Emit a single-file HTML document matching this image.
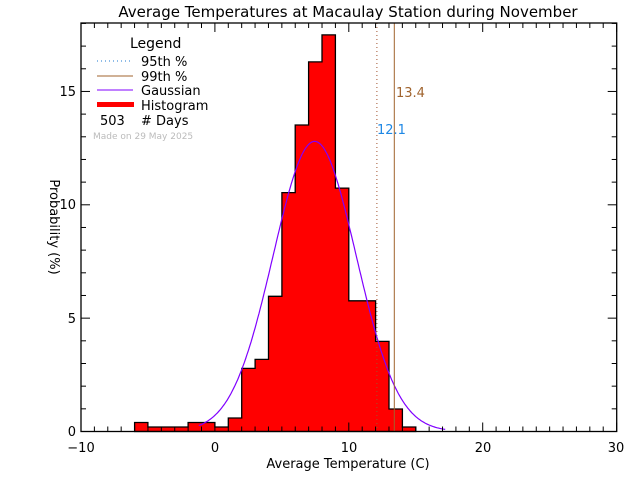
<!DOCTYPE html>
<html><head><meta charset="utf-8"><style>
html,body{margin:0;padding:0;background:#fff;}
svg{display:block;font-family:"DejaVu Sans","Liberation Sans",sans-serif;}
</style></head><body>
<svg id="s" width="640" height="480" viewBox="0 0 640 480" xmlns="http://www.w3.org/2000/svg">
<g id="bars"></g>
<g id="gauss"></g>
<line x1="376.9" y1="23" x2="376.9" y2="431.5" stroke="#a0522d" stroke-width="1" stroke-dasharray="1,3"/>
<line x1="394.3" y1="23" x2="394.3" y2="431.5" stroke="#a0632d" stroke-width="1"/>
<g id="ticks" stroke="#000" stroke-width="1"></g>
<rect x="81" y="23" width="535.7" height="408.5" fill="none" stroke="#000" stroke-width="1.3"/>
<text x="348" y="17" font-size="15" text-anchor="middle">Average Temperatures at Macaulay Station during November</text>
<g font-size="13" text-anchor="middle">
<text x="81" y="452">−10</text><text x="215" y="452">0</text><text x="349" y="452">10</text><text x="483" y="452">20</text><text x="616" y="452">30</text>
</g>
<g font-size="13" text-anchor="end">
<text x="76" y="436">0</text><text x="76" y="323">5</text><text x="76" y="209">10</text><text x="76" y="96">15</text>
</g>
<text x="348" y="468" font-size="13" text-anchor="middle">Average Temperature (C)</text>
<text transform="translate(50,227) rotate(90)" font-size="13" text-anchor="middle">Probability (%)</text>
<text x="130" y="48" font-size="14">Legend</text>
<line x1="97" y1="61" x2="133" y2="61" stroke="#1e78d0" stroke-dasharray="1,3"/>
<text x="141" y="66" font-size="13">95th %</text>
<line x1="97" y1="76" x2="133" y2="76" stroke="#a0632d"/>
<text x="141" y="81" font-size="13">99th %</text>
<line x1="97" y1="90" x2="133" y2="90" stroke="#8000ff"/>
<text x="141" y="95" font-size="13">Gaussian</text>
<rect x="97" y="102" width="37" height="5" fill="#ff0000"/>
<text x="141" y="110" font-size="13">Histogram</text>
<text x="100" y="125" font-size="13">503</text>
<text x="141" y="125" font-size="13"># Days</text>
<text x="93" y="139" font-size="9" fill="#bbb">Made on 29 May 2025</text>
<text x="396" y="97" font-size="13" fill="#a0632d">13.4</text>
<text x="377" y="134" font-size="13" fill="#1e88e5">12.1</text>
</svg>
<script>
var X=function(v){return 214.9+v*13.39},Y=function(p){return 431.5-p*22.67};
var days={"-6":2,"-5":1,"-4":1,"-3":1,"-2":2,"-1":2,"0":1,"1":3,"2":14,"3":16,"4":30,"5":53,"6":68,"7":82,"8":88,"9":54,"10":29,"11":29,"12":20,"13":5,"14":1};
var pts=[X(-6).toFixed(1)+',431.5'];
for(var k=-6;k<=14;k++){var y=Y(days[k]/503*100).toFixed(1);pts.push(X(k).toFixed(1)+','+y);pts.push(X(k+1).toFixed(1)+','+y);}
pts.push(X(15).toFixed(1)+',431.5');
document.getElementById('bars').innerHTML='<polygon points="'+pts.join(' ')+'" fill="#ff0000" stroke="#000" stroke-width="1.3"/>';
var g=[];for(var v=-1.2;v<=17.2;v+=0.1){var q=12.8*Math.exp(-Math.pow(v-7.45,2)/(2*3.1*3.1));g.push(X(v).toFixed(1)+','+Y(q).toFixed(1));}
document.getElementById('gauss').innerHTML='<polyline points="'+g.join(' ')+'" fill="none" stroke="#8000ff" stroke-width="1.2"/>';
var t='';for(var v=-10;v<=30;v++){var L=(v%10==0)?9:5;t+='<line x1="'+X(v)+'" y1="431.5" x2="'+X(v)+'" y2="'+(431.5-L)+'"/><line x1="'+X(v)+'" y1="23" x2="'+X(v)+'" y2="'+(23+L)+'"/>';}
for(var p=0;p<=18;p++){var y=Y(p);if(y<23)break;var L=(p%5==0)?9:5;t+='<line x1="81" y1="'+y+'" x2="'+(81+L)+'" y2="'+y+'"/><line x1="616.7" y1="'+y+'" x2="'+(616.7-L)+'" y2="'+y+'"/>';}
document.getElementById('ticks').innerHTML=t;
</script>
</body></html>
